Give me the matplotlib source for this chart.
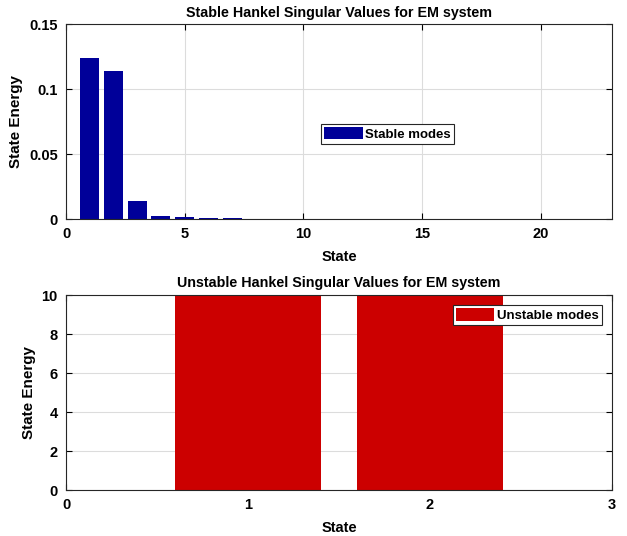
import matplotlib
matplotlib.use("Agg")
import matplotlib.pyplot as plt
import numpy as np

# Hankel singular values
stable_states = np.arange(1, 23)
stable_hsv = [0.1237, 0.1140, 0.0140, 0.0023, 0.0016, 0.0009, 0.0008,
              0.0003, 0.0002, 0.0002, 0.0002, 0.0001, 0.0001, 0.0001,
              0.0001, 0.0001, 0.0001, 0.0001, 0.0001, 0.0001, 0.0001, 0.0001]
unstable_states = [1, 2]
unstable_hsv = [10, 10]   # Inf in the model, clipped at the axis top

plt.rcParams['font.family'] = ['Liberation Sans', 'DejaVu Sans']
plt.rcParams['font.weight'] = 'bold'

fig = plt.figure(figsize=(6.27, 5.36), dpi=100)
ax1 = fig.add_axes([0.1053, 0.5914, 0.8708, 0.3638])
ax2 = fig.add_axes([0.1053, 0.0858, 0.8708, 0.3638])

def style(ax):
    ax.grid(True, color='#dcdcdc', linewidth=0.8)
    ax.set_axisbelow(True)
    ax.tick_params(direction='in', length=4, width=0.8, top=True, right=True,
                   labelsize=10.5, pad=6)
    for s in ax.spines.values():
        s.set_linewidth(0.8)
        s.set_color('#262626')
    for lab in ax.get_xticklabels() + ax.get_yticklabels():
        lab.set_fontweight('bold')

ax1.bar(stable_states, stable_hsv, width=0.8, color='#000099', label='Stable modes')
ax1.set_xlim(0, 23)
ax1.set_ylim(0, 0.15)
ax1.set_xticks([0, 5, 10, 15, 20])
ax1.set_yticks([0, 0.05, 0.1, 0.15])
ax1.set_yticklabels(['0', '0.05', '0.1', '0.15'])
ax1.set_title('Stable Hankel Singular Values for EM system', fontsize=10.3, fontweight='bold', pad=5)
ax1.set_xlabel('State', fontsize=10.5, fontweight='bold', labelpad=6)
ax1.set_ylabel('State Energy', fontsize=11, fontweight='bold', labelpad=4)
style(ax1)
leg1 = ax1.legend(loc='lower left', bbox_to_anchor=(0.467, 0.385), borderaxespad=0,
                  fancybox=False, edgecolor='#262626', framealpha=1,
                  handlelength=2.9, handleheight=1.1, handletextpad=0.2,
                  borderpad=0.25, prop={'weight': 'bold', 'size': 9.5})
leg1.get_frame().set_linewidth(0.8)

ax2.bar(unstable_states, unstable_hsv, width=0.8, color='#cc0000', label='Unstable modes')
ax2.set_xlim(0, 3)
ax2.set_ylim(0, 10)
ax2.set_xticks([0, 1, 2, 3])
ax2.set_yticks([0, 2, 4, 6, 8, 10])
ax2.set_title('Unstable Hankel Singular Values for EM system', fontsize=10.3, fontweight='bold', pad=6)
ax2.set_xlabel('State', fontsize=10.5, fontweight='bold', labelpad=6)
ax2.set_ylabel('State Energy', fontsize=11, fontweight='bold', labelpad=4)
style(ax2)
leg2 = ax2.legend(loc='upper right', bbox_to_anchor=(0.982, 0.949), borderaxespad=0,
                  fancybox=False, edgecolor='#262626', framealpha=1,
                  handlelength=2.9, handleheight=1.1, handletextpad=0.2,
                  borderpad=0.25, prop={'weight': 'bold', 'size': 9.5})
leg2.get_frame().set_linewidth(0.8)

fig.savefig('out.png', dpi=100)
